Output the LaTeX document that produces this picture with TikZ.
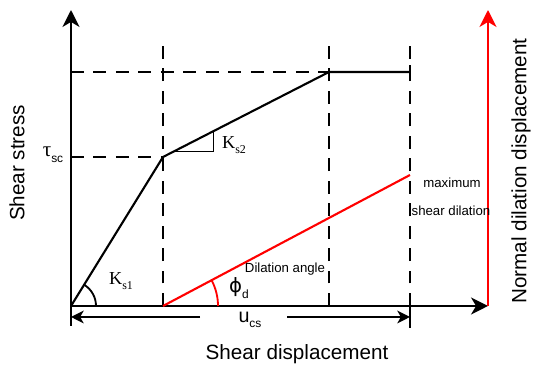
\documentclass[tikz,border=0pt]{standalone}
\usepackage{fontspec}
\setmainfont{Liberation Sans}
\newfontfamily\rmserif{Liberation Serif}
\newfontfamily\symfont{DejaVu Sans}
\usetikzlibrary{arrows.meta,positioning}
\newcommand{\subs}[1]{\raisebox{-0.55ex}{\fontsize{8.5}{9}\selectfont #1}}

\begin{document}
\begin{tikzpicture}[x=0.25mm, y=0.25mm,
  ax/.style={line width=1.9pt, -{Stealth[length=12pt, width=12pt, inset=3.5pt]}},
  dim/.style={line width=1.5pt, -{Stealth[length=9pt, width=9pt, inset=2.5pt]}},
  dsh/.style={line width=1.4pt, dash pattern=on 9pt off 7pt},
  crv/.style={line width=1.5pt},
  lab/.style={font=\fontsize{9.4}{11}\selectfont},
  big/.style={font=\fontsize{14.7}{17}\selectfont}]
  \useasboundingbox (0,0) rectangle (535,367);
  % ---------------- points
  \coordinate (O) at (71,61);
  \coordinate (A) at (163,210);
  \coordinate (B) at (329,295);
  \coordinate (C) at (410,295);
  \coordinate (D) at (410,192);
  \coordinate (Ax) at (163,61);
  \coordinate (Bx) at (329,61);
  \coordinate (Cx) at (410,61);
  \coordinate (Ay) at (71,210);
  \coordinate (By) at (71,295);
  \coordinate (At) at (163,327);
  \coordinate (Bt) at (329,322);
  \coordinate (Ct) at (410,322);
  \coordinate (Ybot) at (71,41);
  \coordinate (Ytop) at (71,357);
  \coordinate (Xend) at (488,61);
  \coordinate (Ztop) at (488,357);
  % ---------------- dashed guides
  \draw[dsh] (Ay) -- (A);
  \draw[dsh] (By) -- (B);
  \draw[dsh] (Ax) -- (At);
  \draw[dsh] (Bx) -- (Bt);
  \draw[dsh] (Cx) -- (Ct);
  % ---------------- axes
  \draw[ax] (Ybot) -- (Ytop);
  \draw[ax] (O) -- (Xend);
  \draw[ax, red] (Xend) -- (Ztop);
  % ---------------- shear stress curve
  \draw[crv, line join=round] (O) -- (A) -- (B) -- (C);
  \draw[crv] (410,288) -- (410,302);
  \draw[line width=0.6pt] (174.7,216) -- (213,216) -- (213,235.6);
  \draw[line width=1.3pt] (96,61) arc[start angle=0, end angle=58.3, radius=25];
  % ---------------- dilation
  \draw[crv, red] (Ax) -- (D);
  \draw[line width=1.3pt, red] (218,61) arc[start angle=0, end angle=27.9, radius=55];
  % ---------------- u_cs dimension
  \coordinate (uL) at (200,50);
  \coordinate (uR) at (287,50);
  \draw[crv] (410,39) -- (410,69);
  \draw[dim] (uL) -- (71,50);
  \draw[dim] (uR) -- (410,50);
  % ---------------- labels
  \node[font=\fontsize{15}{17}\selectfont] (tau) at (53,212) {{\rmserif τ}\subs{sc}};
  \node[font=\fontsize{13}{15}\selectfont\rmserif] (ks2) at (234,222) {K\subs{\rmserif s2}};
  \node[font=\fontsize{13}{15}\selectfont\rmserif] (ks1) at (121,86) {K\subs{\rmserif s1}};
  \node[font=\fontsize{14}{16}\selectfont] (phi) at (239,79) {{\symfont ϕ}\subs{d}};
  \node[font=\fontsize{14}{16}\selectfont] (ucs) at (250,47) {u\subs{cs}};
  \node[lab] (dang) at (285,98) {Dilation angle};
  \node[lab] (maxd) at (452,184) {maximum};
  \node[lab] (shd) at (451,156) {shear dilation};
  \node[big, rotate=90] (ylab) at (17,204) {Shear stress};
  \node[big, rotate=90] (zlab) at (521,196) {Normal dilation displacement};
  \node[big] (xlab) at (297,13) {Shear displacement};
\end{tikzpicture}
\end{document}
